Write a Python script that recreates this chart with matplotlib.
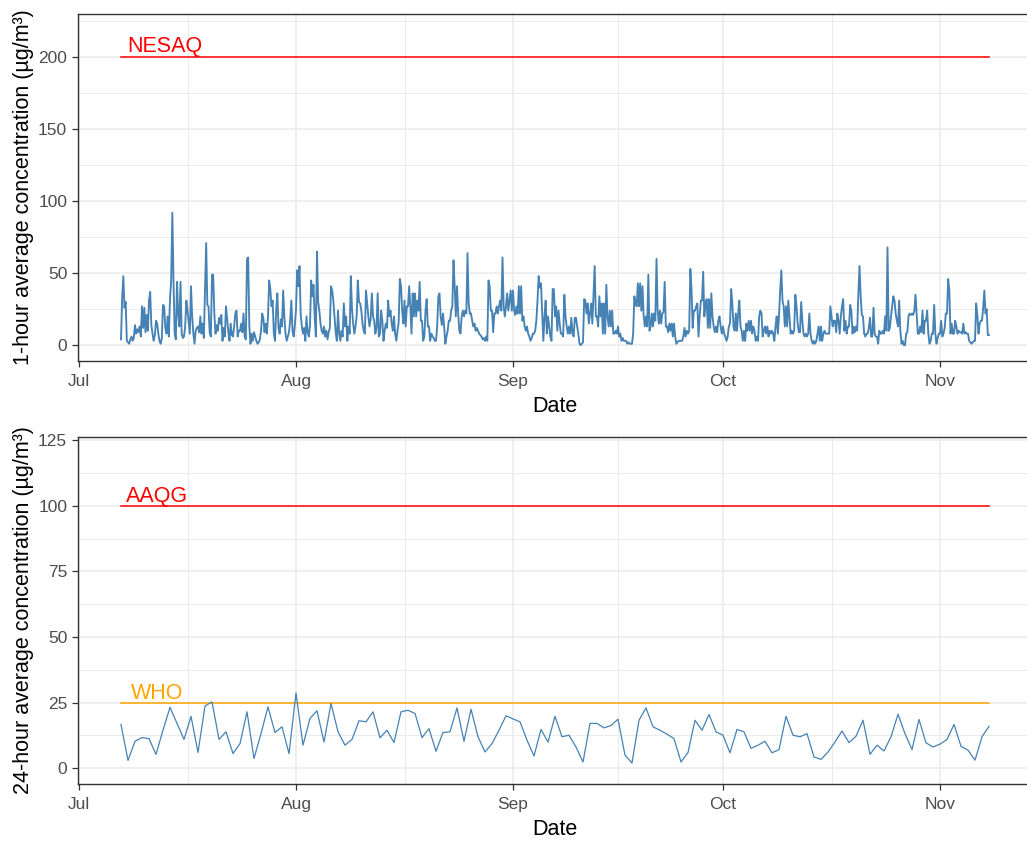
import numpy as np
import pandas as pd
import matplotlib
matplotlib.use("Agg")
import matplotlib.pyplot as plt
import matplotlib.dates as mdates

plt.rcParams['font.family'] = ['Liberation Sans', 'DejaVu Sans']

# NO2, 4-hourly readings (ug/m3), one row per day starting 7 Jul
no2_4h = [
    [4, 33, 48, 26, 30, 3], [2, 1, 4, 6, 3, 5], [14, 8, 11, 9, 13, 6],
    [27, 12, 26, 9, 21, 10], [31, 37, 14, 8, 3, 7], [17, 15, 8, 3, 1, 5],
    [28, 27, 12, 8, 20, 6], [32, 45, 92, 45, 8, 4], [44, 22, 13, 44, 8, 5],
    [6, 13, 31, 24, 16, 8], [41, 20, 8, 1, 10, 12], [13, 9, 20, 8, 15, 5],
    [39, 71, 28, 27, 9, 6], [49, 49, 22, 8, 14, 10], [19, 15, 21, 3, 12, 6],
    [27, 18, 9, 3, 15, 7], [6, 13, 22, 24, 6, 10], [10, 15, 9, 22, 6, 4],
    [60, 61, 13, 1, 8, 3], [9, 6, 3, 1, 2, 4], [10, 22, 19, 9, 15, 8],
    [20, 45, 39, 27, 31, 8], [3, 24, 36, 12, 8, 18], [13, 38, 20, 8, 3, 6],
    [9, 17, 31, 10, 6, 14], [25, 52, 41, 55, 22, 13], [8, 12, 3, 20, 9, 6],
    [14, 45, 34, 42, 20, 6], [65, 30, 24, 15, 10, 8], [13, 6, 10, 4, 9, 12],
    [41, 38, 31, 20, 9, 3], [24, 8, 3, 10, 6, 29], [13, 20, 3, 13, 8, 48],
    [25, 15, 8, 13, 20, 45], [30, 29, 24, 15, 10, 8], [38, 29, 20, 13, 18, 36],
    [20, 17, 8, 12, 36, 6], [8, 24, 17, 3, 10, 15], [12, 31, 20, 24, 15, 10],
    [20, 8, 3, 10, 16, 46], [41, 24, 15, 31, 13, 27], [27, 41, 27, 8, 36, 20],
    [36, 20, 31, 24, 44, 17], [17, 3, 6, 24, 32, 13], [13, 3, 8, 6, 5, 3],
    [3, 13, 34, 36, 20, 14], [22, 13, 1, 6, 10, 17], [17, 24, 27, 59, 41, 20],
    [41, 22, 10, 8, 20, 24], [20, 24, 22, 64, 29, 22], [22, 17, 13, 15, 10, 12],
    [10, 8, 7, 6, 4, 5], [3, 6, 3, 45, 41, 24], [24, 9, 22, 22, 27, 22],
    [27, 31, 24, 61, 27, 20], [27, 36, 24, 31, 38, 24], [38, 24, 21, 27, 22, 41],
    [22, 41, 17, 20, 13, 10], [13, 8, 6, 3, 5, 8], [8, 10, 17, 31, 48, 40],
    [43, 22, 3, 20, 31, 8], [20, 13, 6, 3, 39, 39], [20, 27, 10, 24, 15, 8],
    [8, 6, 35, 20, 13, 8], [13, 8, 19, 8, 6, 19], [19, 13, 8, 1, 0, 1],
    [2, 32, 31, 22, 29, 15], [22, 29, 15, 36, 55, 20], [20, 13, 34, 20, 29, 8],
    [29, 8, 42, 20, 13, 24], [13, 24, 8, 8, 10, 8], [13, 6, 8, 3, 5, 3],
    [3, 3, 1, 2, 1, 1], [1, 8, 34, 29, 27, 43], [27, 43, 24, 41, 20, 13],
    [20, 13, 49, 10, 13, 22], [13, 22, 17, 60, 24, 15], [24, 15, 22, 23, 44, 13],
    [13, 9, 15, 10, 15, 6], [15, 6, 1, 2, 3, 3], [3, 3, 6, 12, 6, 10],
    [8, 10, 53, 39, 12, 24], [24, 27, 29, 6, 20, 31], [31, 51, 20, 29, 32, 12],
    [32, 12, 36, 20, 13, 9], [13, 9, 17, 20, 13, 8], [13, 8, 6, 3, 6, 13],
    [15, 39, 29, 13, 10, 22], [10, 22, 31, 13, 10, 3], [10, 3, 15, 10, 17, 10],
    [17, 8, 13, 10, 3, 6], [3, 20, 24, 22, 6, 10], [13, 8, 13, 6, 10, 8],
    [10, 8, 3, 13, 20, 8], [20, 38, 52, 31, 27, 13], [27, 13, 31, 20, 8, 10],
    [8, 10, 35, 27, 15, 9], [9, 30, 17, 8, 6, 8], [6, 8, 22, 8, 3, 1],
    [3, 1, 3, 8, 13, 3], [13, 3, 8, 10, 8, 8], [8, 8, 27, 20, 13, 17],
    [17, 9, 22, 17, 8, 20], [27, 32, 10, 17, 8, 13], [13, 28, 24, 8, 13, 9],
    [13, 10, 35, 55, 34, 21], [20, 8, 6, 8, 8, 12], [19, 6, 6, 26, 8, 6],
    [6, 1, 10, 8, 8, 10], [8, 20, 10, 68, 10, 12], [20, 27, 34, 31, 22, 17],
    [13, 31, 10, 1, 3, 0], [0, 8, 9, 20, 22, 21], [22, 21, 24, 35, 22, 8],
    [8, 13, 9, 24, 8, 17], [17, 24, 8, 1, 3, 8], [8, 28, 8, 1, 5, 8],
    [8, 17, 6, 8, 12, 22], [22, 46, 38, 8, 15, 8], [8, 17, 13, 8, 10, 9],
    [9, 8, 15, 8, 9, 8], [8, 3, 2, 1, 2, 3], [3, 29, 21, 8, 15, 17],
    [17, 26, 38, 22, 25, 7],
]
no2_last = 7

# NO2, 24-hour averages (ug/m3), 7 Jul - 8 Nov
no2_daily = [
    16.7, 3.0, 10.3, 11.7, 11.3, 5.3, 14.5, 23.2, 17.1, 11.0,
    19.8, 6.0, 23.7, 25.3, 11.0, 13.9, 5.6, 9.4, 21.5, 3.7,
    13.2, 23.4, 13.6, 15.8, 5.6, 28.7, 8.8, 19.0, 21.9, 10.0,
    24.7, 13.9, 8.8, 11.0, 18.1, 17.7, 21.5, 11.6, 14.5, 9.8,
    21.5, 22.1, 20.9, 11.7, 15.1, 6.5, 13.6, 13.9, 23.0, 10.3,
    22.5, 12.0, 6.2, 9.4, 14.5, 20.0, 18.8, 17.7, 10.7, 4.7,
    14.8, 10.0, 19.8, 12.0, 12.6, 8.1, 2.4, 17.1, 17.1, 15.4,
    16.3, 18.7, 5.0, 2.0, 18.3, 23.0, 15.8, 14.5, 13.0, 11.3,
    2.4, 6.0, 18.3, 14.5, 20.5, 13.9, 12.6, 5.9, 14.8, 13.9,
    7.6, 8.8, 10.3, 5.9, 7.1, 19.8, 12.6, 12.0, 13.2, 4.3,
    3.4, 6.2, 10.0, 14.2, 9.8, 12.2, 18.3, 5.3, 8.8, 6.6,
    12.0, 20.6, 13.2, 7.1, 18.6, 9.7, 8.1, 9.2, 11.0, 16.7,
    8.4, 6.9, 3.1, 12.0, 16.0,
]

# limit values (ug/m3)
nesaq_1h = 200
aaqg_24h = 100
who_24h = 25

start = pd.Timestamp('2021-07-07')
end = pd.Timestamp('2021-11-08')
t_4h = pd.date_range(start, end, freq='4h')
t_day = pd.date_range(start, end, freq='D')
y_4h = np.append(np.ravel(no2_4h), no2_last)

pad = pd.Timedelta(days=6.2)
minor_x = [pd.Timestamp('2021-07-16 12:00'), pd.Timestamp('2021-08-16 12:00'),
           pd.Timestamp('2021-09-16'), pd.Timestamp('2021-10-16 12:00')]

line_col = '#4682B4'
grid_col = '#EBEBEB'
dark = '#333333'

fig = plt.figure(figsize=(10.27, 8.42), dpi=100)
W, H = 1027, 842
left, width = 77.6 / W, 954.8 / W
ax1 = fig.add_axes([left, (H - 361) / H, width, 347 / H])
ax2 = fig.add_axes([left, (H - 784.3) / H, width, 347.6 / H])


def style(ax, ylim, ymajor, yminor, ylabel):
    ax.set_xlim(start - pad, end + pad)
    ax.set_ylim(*ylim)
    ax.set_yticks(ymajor)
    ax.set_yticks(yminor, minor=True)
    ax.xaxis.set_major_locator(mdates.MonthLocator())
    ax.xaxis.set_major_formatter(mdates.DateFormatter('%b'))
    ax.set_xticks(minor_x, minor=True)
    ax.grid(which='major', color=grid_col, lw=1.1)
    ax.grid(which='minor', color=grid_col, lw=0.7)
    ax.set_axisbelow(True)
    ax.tick_params(which='minor', length=0)
    ax.tick_params(which='major', length=4, width=0.9, color=dark,
                   labelcolor='#4D4D4D', labelsize=12.5)
    ax.tick_params(axis='x', pad=5.5)
    ax.tick_params(axis='y', pad=3.5)
    for s in ax.spines.values():
        s.set_color(dark)
        s.set_linewidth(1.0)
    ax.set_ylabel(ylabel, fontsize=15.5, color='black')
    ax.yaxis.set_label_coords(-0.0455, 0.5)
    ax.set_xlabel('Date', fontsize=15.5, color='black')
    ax.xaxis.set_label_coords(0.5, -0.1)


style(ax1, (-11, 230.2), [0, 50, 100, 150, 200], [25, 75, 125, 175, 225],
      '1-hour average concentration (µg/m³)')
style(ax2, (-6.1, 126.3), [0, 25, 50, 75, 100, 125],
      [12.5, 37.5, 62.5, 87.5, 112.5],
      '24-hour average concentration (µg/m³)')

# top: hourly series with the NESAQ limit
ax1.plot([start, end], [nesaq_1h, nesaq_1h], color='red', lw=1.1)
ax1.plot(t_4h, y_4h, color=line_col, lw=1.35)
ax1.text(start + pd.Timedelta(days=6.2), 203.5, 'NESAQ', color='red',
         fontsize=15.5, ha='center', va='baseline')

# bottom: daily means with AAQG and WHO guidelines
ax2.plot([start, end], [aaqg_24h, aaqg_24h], color='red', lw=1.1)
ax2.plot([start, end], [who_24h, who_24h], color='orange', lw=1.1)
ax2.plot(t_day, no2_daily, color=line_col, lw=0.9)
ax2.text(start + pd.Timedelta(days=5.1), 101.5, 'AAQG', color='red',
         fontsize=15.5, ha='center', va='baseline')
ax2.text(start + pd.Timedelta(days=5.1), 26.3, 'WHO', color='orange',
         fontsize=15.5, ha='center', va='baseline')

fig.savefig('out.png', dpi=100)
